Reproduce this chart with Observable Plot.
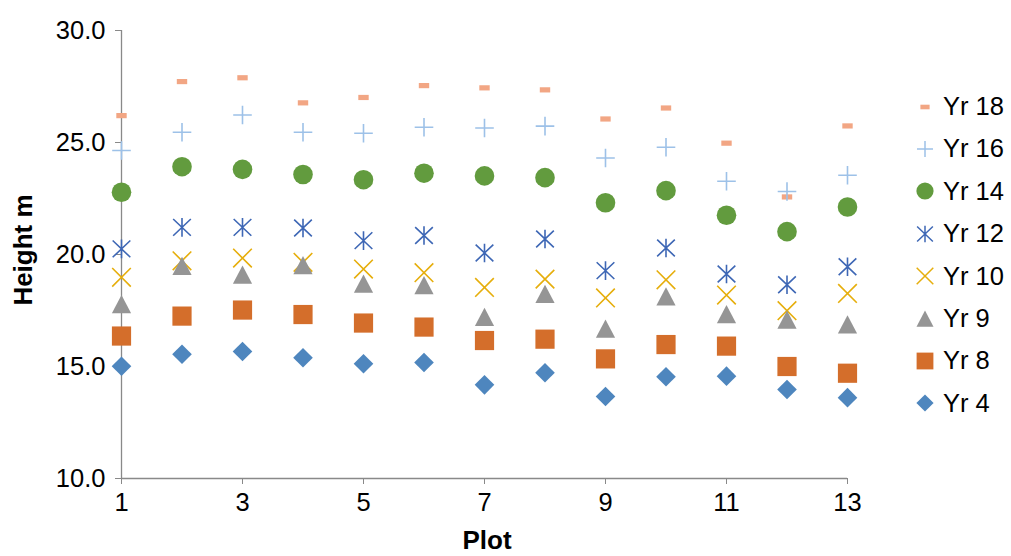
<!DOCTYPE html>
<html><head><meta charset="utf-8">
<script src="https://cdn.jsdelivr.net/npm/d3@7"></script>
<script src="https://cdn.jsdelivr.net/npm/@observablehq/plot@0.6"></script>
<style>
body{margin:0;background:#fff;font-family:"Liberation Sans",Arial,sans-serif;}
#wrap{position:relative;width:1011px;height:556px;overflow:hidden;}
.ttl{position:absolute;font-weight:bold;font-size:26px;color:#000;white-space:nowrap;line-height:1;}
#legend{position:absolute;left:910px;top:0;}
.row{position:absolute;left:0;height:30px;display:flex;align-items:center;font-size:25.5px;color:#000;white-space:nowrap;}
.row svg{display:block;margin-right:3px;}
</style></head><body><div id="wrap"></div>
<script>
// ---- data ----
const plots = [1,2,3,4,5,6,7,8,9,10,11,12,13];
const yr18 = [26.20,27.72,27.89,26.77,27.01,27.54,27.44,27.35,26.05,26.54,24.97,22.57,25.74];
const yr16 = [24.64,25.46,26.23,25.46,25.41,25.68,25.65,25.73,24.31,24.79,23.27,22.81,23.54];
const yr14 = [22.78,23.92,23.80,23.57,23.34,23.63,23.51,23.43,22.31,22.85,21.75,21.02,22.12];
const yr12 = [20.25,21.21,21.21,21.18,20.62,20.85,20.07,20.69,19.28,20.29,19.13,18.65,19.45];
const yr10 = [18.98,19.72,19.84,19.65,19.35,19.19,18.53,18.90,18.06,18.87,18.19,17.49,18.26];
const yr9  = [17.76,19.47,19.08,19.50,18.68,18.61,17.19,18.22,16.67,18.11,17.32,17.07,16.86];
const yr8  = [16.36,17.25,17.52,17.32,16.94,16.76,16.16,16.22,15.34,15.98,15.91,15.00,14.70];
const yr4  = [15.01,15.55,15.67,15.39,15.12,15.18,14.18,14.72,13.66,14.54,14.57,13.97,13.61];
const seriesNames = ["Yr 18","Yr 16","Yr 14","Yr 12","Yr 10","Yr 9","Yr 8","Yr 4"];
const xTicks = [1,3,5,7,9,11,13];
const yTicks = [10,15,20,25,30];
const xLabel = "Plot";
const yLabel = "Height m";

// ---- symbols ----
const R = s => Math.sqrt(s/Math.PI);
const symbols = {
  dash:{draw(c,s){const r=R(s);c.rect(-r,-r/2,2*r,r);}},
  plus:{draw(c,s){const r=R(s);c.moveTo(-r,0);c.lineTo(r,0);c.moveTo(0,-r);c.lineTo(0,r);}},
  circle:{draw(c,s){const r=R(s);c.moveTo(r,0);c.arc(0,0,r,0,2*Math.PI);}},
  star:{draw(c,s){const r=R(s);c.moveTo(-r*0.95,-r*0.9);c.lineTo(r*0.95,r*0.9);c.moveTo(-r*0.95,r*0.9);c.lineTo(r*0.95,-r*0.9);c.moveTo(0,-r);c.lineTo(0,r);}},
  times:{draw(c,s){const r=R(s);c.moveTo(-r,-r);c.lineTo(r,r);c.moveTo(-r,r);c.lineTo(r,-r);}},
  triangle:{draw(c,s){const r=R(s);c.moveTo(0,-r);c.lineTo(r,r*0.9);c.lineTo(-r,r*0.9);c.closePath();}},
  square:{draw(c,s){const r=R(s);c.rect(-r,-r,2*r,2*r);}},
  diamond:{draw(c,s){const r=R(s);c.moveTo(0,-r);c.lineTo(r,0);c.lineTo(0,r);c.lineTo(-r,0);c.closePath();}}
};
const styles = [
  {sym:"dash",     color:"#f2a684", filled:true,  r:5.2, lr:4.6},
  {sym:"plus",     color:"#9dc1e8", filled:false, r:9.3, lr:8.0},
  {sym:"circle",   color:"#629b3e", filled:true,  r:9.8, lr:8.6},
  {sym:"star",     color:"#3e67b5", filled:false, r:9.3, lr:8.3},
  {sym:"times",    color:"#e6ae0c", filled:false, r:9.3, lr:8.3},
  {sym:"triangle", color:"#959595", filled:true,  r:9.6, lr:8.5},
  {sym:"square",   color:"#d46e2b", filled:true,  r:9.6, lr:8.4},
  {sym:"diamond",  color:"#4e86be", filled:true,  r:9.8, lr:8.6}
];
const seriesValues = [yr18,yr16,yr14,yr12,yr10,yr9,yr8,yr4];
const series = seriesNames.map((name,i)=>({name, values:seriesValues[i], ...styles[i]}));

const axisColor = "#898989";
const seriesMarks = series.map(s => Plot.dot(plots.map((p,j)=>({x:p,y:s.values[j]})), {
  x:"x", y:"y", r:s.r, symbol:symbols[s.sym],
  fill: s.filled ? s.color : "none",
  stroke: s.filled ? "none" : s.color,
  strokeWidth: s.filled ? 0 : 1.6
}));

const chart = Plot.plot({
  width:1011, height:556,
  marginLeft:121, marginRight:164, marginTop:30, marginBottom:78,
  style:{fontFamily:"'Liberation Sans', Arial, sans-serif", fontSize:"25.5px", color:"#000", background:"#fff", overflow:"visible"},
  x:{domain:[plots[0], plots[plots.length-1]]},
  y:{domain:[yTicks[0], yTicks[yTicks.length-1]]},
  marks:[
    Plot.axisY({ticks:yTicks, tickFormat:d=>d.toFixed(1), tickSize:6, tickPadding:10, stroke:axisColor, fill:"#000", label:null, fontSize:25.5}),
    Plot.axisX({ticks:xTicks, tickFormat:d=>String(d), tickSize:6, tickPadding:8, stroke:axisColor, fill:"#000", label:null, fontSize:25.5}),
    Plot.ruleX([plots[0]], {y1:yTicks[0], y2:yTicks[yTicks.length-1], stroke:axisColor, strokeWidth:1.3}),
    Plot.ruleY([yTicks[0]], {x1:plots[0], x2:plots[plots.length-1], stroke:axisColor, strokeWidth:1.3}),
    ...seriesMarks
  ]
});
const wrap = document.getElementById("wrap");
wrap.appendChild(chart);

// axis titles
const yt = document.createElement("div");
yt.className="ttl"; yt.textContent=yLabel;
yt.style.left="23px"; yt.style.top="250px"; yt.style.transform="translate(-50%,-50%) rotate(-90deg)";
wrap.appendChild(yt);
const xt = document.createElement("div");
xt.className="ttl"; xt.textContent=xLabel;
xt.style.lineHeight="0.8";
xt.style.left="487px"; xt.style.top="530px"; xt.style.transform="translateX(-50%)";
wrap.appendChild(xt);

// legend
const leg = document.createElement("div"); leg.id="legend"; wrap.appendChild(leg);
series.forEach((s,i)=>{
  const row = document.createElement("div"); row.className="row";
  row.style.top = (106.5 + i*42.4 - 15) + "px";
  const svg = d3.create("svg").attr("width",30).attr("height",30);
  const p = d3.path(); symbols[s.sym].draw(p, s.lr*s.lr*Math.PI);
  svg.append("path").attr("transform","translate(15,15)").attr("d",p.toString())
    .attr("fill", s.filled? s.color:"none").attr("stroke", s.filled? "none": s.color).attr("stroke-width",1.5);
  row.appendChild(svg.node());
  const t = document.createElement("span"); t.textContent=s.name; row.appendChild(t);
  leg.appendChild(row);
});
</script></body></html>
